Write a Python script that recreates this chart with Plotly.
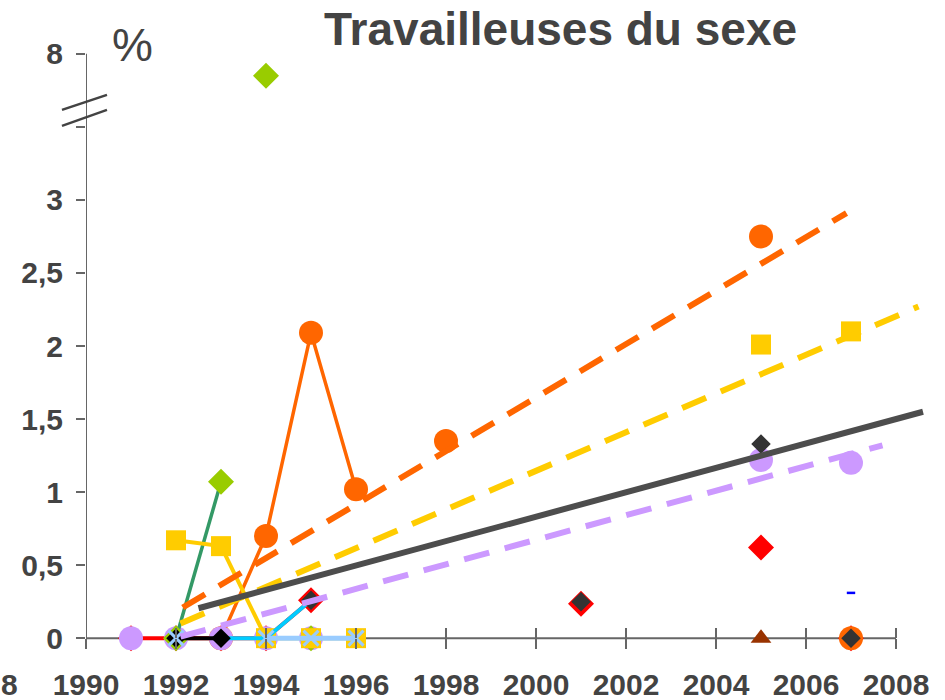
import plotly.graph_objects as go

# ---------------- data ----------------
YEARS = list(range(1991, 2008))  # 1991..2007

def series(d):
    return [d.get(y) for y in YEARS]

red_vals = series({1991: 0, 1992: 0, 1993: 0, 1994: 0, 1995: 0.26, 2001: 0.235, 2005: 0.62, 2007: 0})
orange_vals = series({1993: 0, 1994: 0.70, 1995: 2.09, 1996: 1.02, 1998: 1.35, 2005: 2.75, 2007: 0})
purple_vals = series({1991: 0, 1992: 0, 1993: 0, 1994: 0, 1995: 0, 2005: 1.22, 2007: 1.20})
green_vals = series({1992: 0, 1993: 1.07, 1995: 0})
green_break_years = [1994]
green_break_vals = [7.7]          # shown above the axis break
yellow_vals = series({1992: 0.67, 1993: 0.63, 1994: 0, 1995: 0, 1996: 0, 2005: 2.01, 2007: 2.10})
cyan_vals = series({1993: 0, 1994: 0, 1995: 0.26})
black_vals = series({1992: 0, 1993: 0})
darkgray_vals = series({1995: 0.26, 2001: 0.25, 2005: 1.33, 2007: 0})
lightblue_vals = series({1992: 0, 1994: 0, 1995: 0, 1996: 0})
brown_vals = series({2005: 0})
blue_vals = series({2007: 0.31})

# trend lines (end points)
trend_orange_x = [1992.15, 2006.9]
trend_orange_y = [0.21, 2.91]
trend_yellow_x = [1992.1, 2008.5]
trend_yellow_y = [0.10, 2.27]
trend_black_x = [1992.5, 2008.6]
trend_black_y = [0.205, 1.55]
trend_purple_x = [1992.1, 2007.7]
trend_purple_y = [0.01, 1.32]

x_tickvals = list(range(1990, 2009, 2))
y_tickvals = [0, 0.5, 1, 1.5, 2, 2.5, 3, 3.5, 4]
y_ticktext = ["0", "0,5", "1", "1,5", "2", "2,5", "3", "", "8"]

TITLE = "Travailleuses du sexe"

# ---------------- helpers ----------------
def disp(v):
    if v is None:
        return None
    return v if v <= 3.5 else 3.5 + (v - 7.0) * 0.5

FONT = "Liberation Sans, Arial, sans-serif"
TXT = "#434343"
AX = "#666666"

fig = go.Figure()

def add(x, y, mode, color=None, symbol=None, size=None, lw=3, dash=None,
        mline_color=None, mline_w=0):
    tr = dict(x=x, y=[disp(v) for v in y], mode=mode, hoverinfo="skip",
              showlegend=False, cliponaxis=False)
    if "lines" in mode:
        tr["line"] = dict(color=color, width=lw, dash=dash)
    if "markers" in mode:
        tr["marker"] = dict(color=color, symbol=symbol, size=size,
                            line=dict(color=mline_color or color, width=mline_w))
    fig.add_trace(go.Scatter(**tr))

# data series (bottom to top)
add(YEARS, red_vals, "lines+markers", "#FF0000", "diamond", 20, lw=4)
add(YEARS, orange_vals, "lines+markers", "#FF6600", "circle", 24, lw=3.5)
add(YEARS, purple_vals, "markers", "#CC99FF", "circle", 24)
add(YEARS, green_vals, "lines", "#339966", lw=3.5)
add(YEARS, green_vals, "markers", "#99CC00", "diamond", 20)
add(green_break_years, green_break_vals, "markers", "#99CC00", "diamond", 20)
add(YEARS, yellow_vals, "lines+markers", "#FFCC00", "square", 20, lw=4)
add(YEARS, cyan_vals, "lines", "#00CCFF", lw=4)
add(YEARS, black_vals, "lines+markers", "#000000", "diamond", 15, lw=4)
add(YEARS, darkgray_vals, "markers", "#333333", "diamond", 15)
add(YEARS, lightblue_vals, "lines", "#99CCFF", lw=5)
add(YEARS, lightblue_vals, "markers", "#99CCFF", "x-thin", 15, mline_color="#99CCFF", mline_w=3)
add(YEARS, brown_vals, "markers", "#993300", "triangle-up", 18)
add(YEARS, blue_vals, "markers", "#0000FF", "line-ew", 6, mline_color="#0000FF", mline_w=2.5)

# trend lines
add(trend_orange_x, trend_orange_y, "lines", "#FF6600", lw=6, dash="26px,16px")
add(trend_yellow_x, trend_yellow_y, "lines", "#FFCC00", lw=6, dash="26px,16px")
add(trend_black_x, trend_black_y, "lines", "#4D4D4D", lw=6)
add(trend_purple_x, trend_purple_y, "lines", "#CC99FF", lw=6, dash="26px,16px")

# ---------------- layout ----------------
Y0, Y1 = -0.3, 4.3
X0, X1 = 1990, 2008.8
xpos = (0 - Y0) / (Y1 - Y0)

tickfont = dict(family=FONT, size=30, color=TXT, weight="bold")

fig.update_layout(
    width=945, height=700,
    margin=dict(l=86, r=13, t=10, b=18, autoexpand=False),
    paper_bgcolor="white", plot_bgcolor="white",
    xaxis=dict(range=[X0, X1], tickvals=x_tickvals, ticks="outside", ticklen=10,
               tickwidth=2, tickcolor=AX, showline=False, showgrid=False,
               zeroline=False, anchor="free", position=xpos, tickfont=tickfont,
               ticklabelstandoff=10, automargin=False),
    xaxis2=dict(range=[X0, X1], tickvals=x_tickvals, ticks="inside", ticklen=10,
                tickwidth=2, tickcolor=AX, showline=False, showgrid=False,
                zeroline=False, showticklabels=False, overlaying="x",
                anchor="free", position=xpos, automargin=False),
    yaxis=dict(range=[Y0, Y1], tickvals=y_tickvals, ticktext=y_ticktext,
               ticks="outside", ticklen=9, tickwidth=2, tickcolor=AX,
               showline=False, showgrid=False, zeroline=False,
               tickfont=tickfont, ticklabelstandoff=7, automargin=False),
    shapes=[
        dict(type="line", xref="x", yref="y", x0=1990, x1=2008, y0=0, y1=0,
             line=dict(color=AX, width=2), layer="below"),
        dict(type="line", xref="x", yref="y", x0=1990, x1=1990, y0=-0.07, y1=4.0,
             line=dict(color=AX, width=2), layer="below"),
        dict(type="line", xref="paper", yref="y", x0=-0.0284, x1=0.0248,
             y0=3.616, y1=3.719, line=dict(color=TXT, width=2.5)),
        dict(type="line", xref="paper", yref="y", x0=-0.0284, x1=0.0248,
             y0=3.507, y1=3.616, line=dict(color=TXT, width=2.5)),
    ],
    annotations=[
        dict(text=TITLE, xref="paper", yref="paper", x=0.5603, y=0.9717,
             xanchor="center", yanchor="middle", showarrow=False,
             font=dict(family=FONT, size=46, color=TXT, weight="bold")),
        dict(text="%", xref="paper", yref="paper", x=0.0544, y=0.948,
             xanchor="center", yanchor="middle", showarrow=False,
             font=dict(family=FONT, size=46, color=TXT)),
        dict(text="8", xref="paper", yref="paper", x=(9 - 86) / 846, y=(682 - 684) / 672,
             xanchor="center", yanchor="middle", showarrow=False,
             font=tickfont),
    ],
)

# dummy trace on xaxis2 so that the overlay axis is drawn
fig.add_trace(go.Scatter(x=[None], y=[None], xaxis="x2", showlegend=False, hoverinfo="skip"))

fig.write_html("out.html", config={"displayModeBar": False},
               post_script="document.body.style.margin='0';")
